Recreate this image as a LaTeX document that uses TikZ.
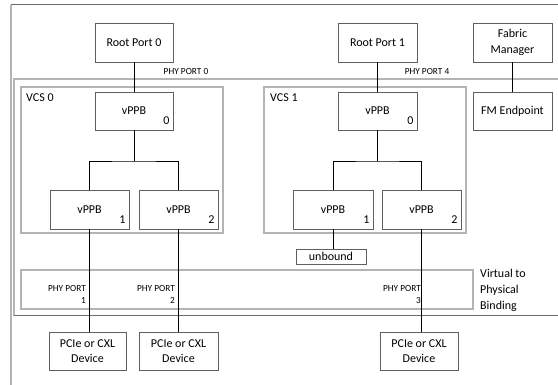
\documentclass[tikz,border=0pt]{standalone}
\usepackage{fontspec}
\setmainfont{Carlito}
\usetikzlibrary{positioning,calc}
\definecolor{swborda}{HTML}{5F5F5F}
\definecolor{swmoldura}{HTML}{B4B4B4}
\definecolor{swtopo}{HTML}{6A6A6A}
\tikzset{
  swcaixa/.style={draw=swborda, fill=white, align=center, font=\fontsize{12}{15.5}\selectfont,
                  inner sep=0pt, line width=0.8pt},
  swnum/.style={font=\fontsize{12}{14}\selectfont, inner sep=0pt},
  swrotulo/.style={font=\fontsize{9.3}{12.5}\selectfont, inner sep=0pt, align=right},
  swmold/.style={draw=swmoldura, line width=1.2pt},
  swlig/.style={draw=black, line width=0.9pt},
}

\begin{document}
\begin{tikzpicture}[x=1pt, y=-1pt]
        \useasboundingbox (0,0) rectangle (558,385);
        % ---------------- molduras ----------------
        \draw[draw=swtopo, line width=1pt] (11,5) -- (558,5);
        \draw[draw=swmoldura, line width=2pt] (11,5) -- (11,385);
        \draw[swmold] (558,79) -- (14,79) -- (14,316);
        \draw[draw=swtopo, line width=1pt] (14,316) -- (558,316);
        \draw[swmold] (21,87) rectangle (223,233);
        \draw[swmold] (264,87) rectangle (466,233);
        \draw[swmold] (21,270) rectangle (473,309);
        \node[font=\fontsize{12}{14}\selectfont, anchor=north west, inner sep=0pt] (vcs0) at (26,94) {VCS 0};
        \node[font=\fontsize{12}{14}\selectfont, anchor=north west, inner sep=0pt] (vcs1) at (270,94) {VCS 1};
        \node[font=\fontsize{12}{16}\selectfont, anchor=west, align=left, inner sep=0pt] (vtp) at (480,290) {Virtual to\\ Physical\\ Binding};
        % ---------------- portas raiz e FM ----------------
        \node[swcaixa, minimum width=78, minimum height=39] (rp0) at (134,42.5) {Root Port 0};
        \node[swcaixa, minimum width=79, minimum height=39] (rp1) at (377.5,42.5) {Root Port 1};
        \node[swcaixa, minimum width=79, minimum height=39] (fm) at (512.5,42.5) {Fabric\\ Manager};
        \node[swcaixa, minimum width=79, minimum height=38] (fme) at (512.5,111) {FM Endpoint};
        % ---------------- vPPBs ----------------
        \node[swcaixa, minimum width=78, minimum height=38] (a0) at (134,111) {vPPB};
        \node[swcaixa, minimum width=79, minimum height=39] (a1) at (89.5,209.5) {vPPB};
        \node[swcaixa, minimum width=79, minimum height=39] (a2) at (178.5,209.5) {vPPB};
        \node[swcaixa, minimum width=79, minimum height=38] (b0) at (377.5,111) {vPPB};
        \node[swcaixa, minimum width=80, minimum height=39] (b1) at (333,209.5) {vPPB};
        \node[swcaixa, minimum width=79, minimum height=39] (b2) at (421.5,209.5) {vPPB};
        \node[swnum] (a0n) at ($(a0.south east)+(-7,-10)$) {0};
        \node[swnum] (a1n) at ($(a1.south east)+(-7,-10)$) {1};
        \node[swnum] (a2n) at ($(a2.south east)+(-7,-10)$) {2};
        \node[swnum] (b0n) at ($(b0.south east)+(-7,-10)$) {0};
        \node[swnum] (b1n) at ($(b1.south east)+(-7,-10)$) {1};
        \node[swnum] (b2n) at ($(b2.south east)+(-7,-10)$) {2};
        \node[swcaixa, minimum width=70, minimum height=15] (ub) at (331,256.5) {unbound};
        % ---------------- dispositivos ----------------
        \node[swcaixa, minimum width=77, minimum height=38] (d1) at (87.5,351) {PCIe or CXL\\ Device};
        \node[swcaixa, minimum width=79, minimum height=38] (d2) at (178.5,351) {PCIe or CXL\\ Device};
        \node[swcaixa, minimum width=78, minimum height=38] (d3) at (419,351) {PCIe or CXL\\ Device};
        % ---------------- rotulos das portas ----------------
        \node[swrotulo] (pp0) at (186,72) {PHY PORT 0};
        \node[swrotulo] (pp4) at (427,72) {PHY PORT 4};
        \node[swrotulo, anchor=north east] (pp1) at (86,285) {PHY PORT\\ 1};
        \node[swrotulo, anchor=north east] (pp2) at (175,285) {PHY PORT\\ 2};
        \node[swrotulo, anchor=north east] (pp3) at (421,285) {PHY PORT\\ 3};
        % ---------------- ligacoes ----------------
        \coordinate (ta) at (134,161);
        \coordinate (tb) at (377.5,161);
        \draw[swlig] (rp0) -- (a0);
        \draw[swlig] (rp1) -- (b0);
        \draw[swlig] (fm) -- (fme);
        \draw[swlig] (a0.south) -- (ta);
        \draw[swlig] (a1.north) |- (ta) -| (a2.north);
        \draw[swlig] (b0.south) -- (tb);
        \draw[swlig] (b1.north) |- (tb) -| (b2.north);
        \draw[swlig] (b1.south) -- (ub.north -| b1.south);
        \draw[swlig] (a1.south) -- (a1.south |- d1.north);
        \draw[swlig] (a2.south) -- (a2.south |- d2.north);
        \draw[swlig] (b2.south) -- (b2.south |- d3.north);
    \end{tikzpicture}
\end{document}
